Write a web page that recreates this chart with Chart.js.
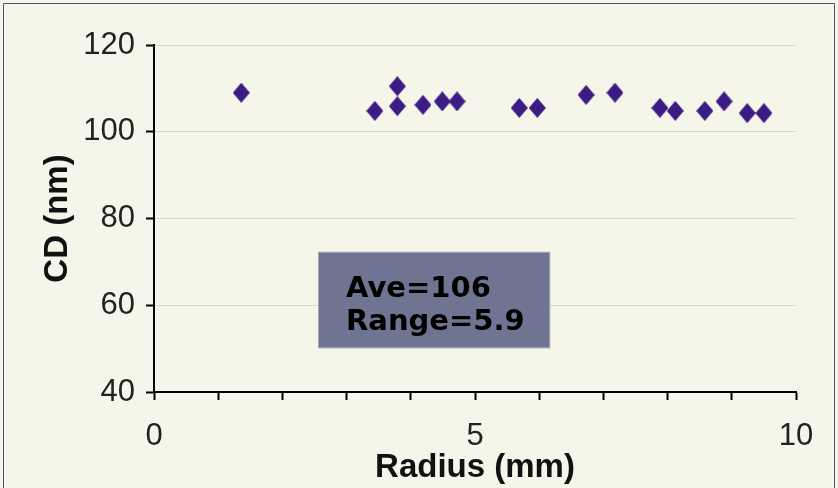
<!DOCTYPE html>
<html>
<head>
<meta charset="utf-8">
<script src="https://cdn.jsdelivr.net/npm/chart.js@4"></script>
<style>
  html, body { margin: 0; padding: 0; background: #f5f5e9; }
  #wrap { width: 838px; height: 488px; }
</style>
</head>
<body>
<div id="wrap"><canvas id="cdChart" width="838" height="488"></canvas></div>
<script>
// values
const radius = [1.36, 3.44, 3.79, 3.79, 4.19, 4.49, 4.72, 5.69, 5.97, 6.73, 7.18, 7.88, 8.12, 8.58, 8.88, 9.24, 9.50];
const cd = [109.0, 104.8, 110.5, 105.9, 106.2, 107.0, 107.0, 105.5, 105.5, 108.5, 109.0, 105.5, 104.8, 104.8, 107.0, 104.3, 104.3];
const xTickLabels = ["0", "5", "10"];
const yTickValues = [40, 60, 80, 100, 120];
const noteLines = ["Ave=106", "Range=5.9"];
const noteBox = { x0: 2.555, x1: 6.17, y0: 50.1, y1: 72.3 };

// diamond marker, a bit taller than wide
function makeDiamond(w, h, color) {
    const c = document.createElement("canvas");
    c.width = w; c.height = h;
    const g = c.getContext("2d");
    g.fillStyle = color;
    g.beginPath();
    g.moveTo(w / 2, 0);
    g.lineTo(w, h / 2);
    g.lineTo(w / 2, h);
    g.lineTo(0, h / 2);
    g.closePath();
    g.fill();
    return c;
}
const diamond = makeDiamond(17, 20, "#3a1c84");

const points = radius.map((r, i) => ({ x: r, y: cd[i] }));

const framePlugin = {
    id: "frame",
    beforeDraw(chart) {
        const ctx = chart.ctx;
        ctx.save();
        ctx.fillStyle = "#f5f5e9";
        ctx.fillRect(0, 0, chart.width, chart.height);
        ctx.strokeStyle = "#4a5a6a";
        ctx.lineWidth = 1;
        ctx.beginPath();
        ctx.moveTo(3.5, chart.height);
        ctx.lineTo(3.5, 3.5);
        ctx.lineTo(chart.width - 3.5, 3.5);
        ctx.lineTo(chart.width - 3.5, chart.height);
        ctx.stroke();
        ctx.restore();
    }
};

const notePlugin = {
    id: "note",
    afterDatasetsDraw(chart) {
        const ctx = chart.ctx;
        const xs = chart.scales.x, ys = chart.scales.y;
        const left = xs.getPixelForValue(noteBox.x0);
        const right = xs.getPixelForValue(noteBox.x1);
        const top = ys.getPixelForValue(noteBox.y1);
        const bottom = ys.getPixelForValue(noteBox.y0);
        ctx.save();
        ctx.fillStyle = "#6e7491";
        ctx.fillRect(left, top, right - left, bottom - top);
        ctx.strokeStyle = "#a4a9b8";
        ctx.lineWidth = 1;
        ctx.strokeRect(left + 0.5, top + 0.5, right - left - 1, bottom - top - 1);
        ctx.fillStyle = "#000";
        ctx.font = "bold 29px 'DejaVu Sans', Verdana, sans-serif";
        ctx.textBaseline = "alphabetic";
        noteLines.forEach((t, i) => ctx.fillText(t, left + 28, top + 45 + i * 33));
        ctx.restore();
    }
};

new Chart(document.getElementById("cdChart").getContext("2d"), {
    type: "scatter",
    data: {
        datasets: [{
            label: "CD",
            data: points,
            pointStyle: diamond,
            pointRadius: 9,
            pointHoverRadius: 9
        }]
    },
    options: {
        responsive: false,
        animation: false,
        events: [],
        layout: { padding: { left: 0, top: 45, right: 42, bottom: 0 } },
        plugins: { legend: { display: false }, tooltip: { enabled: false } },
        scales: {
            x: {
                type: "linear",
                min: 0, max: 10,
                afterFit(scale) { scale.height = 96; },
                border: { color: "#000", width: 2 },
                grid: { drawOnChartArea: false, drawTicks: true, tickLength: 8, tickColor: "#000", tickWidth: 2 },
                ticks: {
                    stepSize: 1,
                    autoSkip: false,
                    maxRotation: 0,
                    padding: 18,
                    color: "#222",
                    font: { family: "'Liberation Sans', Arial, sans-serif", size: 31 },
                    callback: v => (v % 5 === 0 ? xTickLabels[v / 5] : "")
                },
                title: {
                    display: true,
                    text: "Radius (mm)",
                    color: "#111",
                    padding: { top: 0, bottom: 0 },
                    font: { family: "'Liberation Sans', Arial, sans-serif", size: 33, weight: "bold" }
                }
            },
            y: {
                min: 40, max: 120,
                afterFit(scale) { scale.width = 154; },
                afterBuildTicks(scale) { scale.ticks = yTickValues.map(v => ({ value: v })); },
                border: { color: "#000", width: 2 },
                grid: { color: "#d9d9cc", lineWidth: 1, drawTicks: true, tickLength: 8, tickColor: "#000", tickWidth: 2 },
                ticks: {
                    padding: 11,
                    color: "#222",
                    font: { family: "'Liberation Sans', Arial, sans-serif", size: 31 }
                },
                title: {
                    display: true,
                    text: "CD (nm)",
                    color: "#111",
                    padding: { top: 38, bottom: 0 },
                    font: { family: "'Liberation Sans', Arial, sans-serif", size: 33, weight: "bold" }
                }
            }
        }
    },
    plugins: [framePlugin, notePlugin]
});
</script>
</body>
</html>
